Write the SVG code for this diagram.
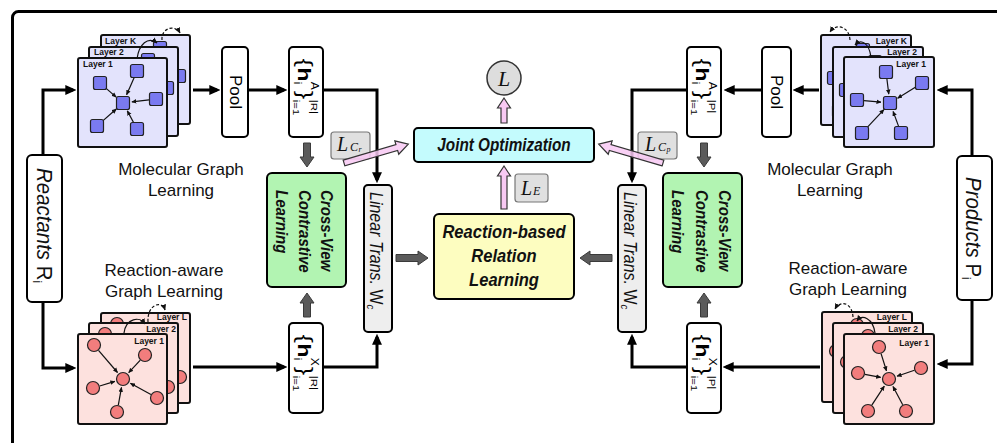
<svg xmlns="http://www.w3.org/2000/svg" width="997" height="443" viewBox="0 0 997 443">
<style>
.frame{fill:none;stroke:#000;stroke-width:3}
.box{fill:#fff;stroke:#000;stroke-width:2}
.mb{fill:#e3e3fc;stroke:#111;stroke-width:2}
.rb{fill:#fde1de;stroke:#111;stroke-width:2}
.sq{fill:#7a7af0;stroke:#222;stroke-width:1.2}
.ci{fill:#f27d7d;stroke:#222;stroke-width:1.2}
.ed{stroke:#111;stroke-width:1.2;marker-end:url(#sa)}
.conn{fill:none;stroke:#000;stroke-width:3;marker-end:url(#ah)}
.curve{fill:none;stroke:#111;stroke-width:1.2;marker-end:url(#ca)}
.dash{stroke-dasharray:3 2}
.gray{fill:#5b5b5b;stroke:#3a3a3a;stroke-width:1}
.pink{fill:#f8c9f3;stroke:#333;stroke-width:1.2}
.pinkd{fill:#f8c9f3;fill-opacity:0.85;stroke:#333;stroke-width:1.2}
.lossb{fill:#e0e0e0;stroke:#777;stroke-width:1.2}
.sans{font-family:"Liberation Sans",Arial,sans-serif}
.lbl{font-family:"Liberation Sans",Arial,sans-serif;font-size:17px;fill:#111}
.lay{font-family:"Liberation Sans",Arial,sans-serif;font-size:8.5px;font-weight:bold;fill:#111}
.bi{font-family:"Liberation Sans",Arial,sans-serif;font-weight:bold;font-style:italic;fill:#111}
.it{font-family:"Liberation Sans",Arial,sans-serif;font-style:italic;fill:#111}
.math{font-family:"Liberation Serif","Times New Roman",serif;font-style:italic;fill:#111}
</style>
<defs>
<marker id="ah" viewBox="0 0 10 10" refX="7" refY="5" markerWidth="11" markerHeight="11" markerUnits="userSpaceOnUse" orient="auto"><path d="M0,0.5 L10,5 L0,9.5 z" fill="#000"/></marker>
<marker id="sa" viewBox="0 0 10 10" refX="9" refY="5" markerWidth="5" markerHeight="5" markerUnits="userSpaceOnUse" orient="auto"><path d="M0,0.5 L10,5 L0,9.5 z" fill="#111"/></marker>
<marker id="ca" viewBox="0 0 10 10" refX="9" refY="5" markerWidth="6" markerHeight="6" markerUnits="userSpaceOnUse" orient="auto"><path d="M0,0.5 L10,5 L0,9.5 z" fill="#111"/></marker>
<g id="molL">
<rect x="0" y="0" width="89" height="89" rx="2" class="mb"/>
<line class="ed" x1="27.3" y1="29.6" x2="38.2" y2="39.1"/>
<line class="ed" x1="56.2" y1="19.4" x2="48.6" y2="36.7"/>
<line class="ed" x1="71" y1="41.8" x2="53.9" y2="43.9"/>
<line class="ed" x1="24.2" y1="63.4" x2="38.3" y2="51"/>
<line class="ed" x1="55.7" y1="64.8" x2="49.3" y2="52.9"/>
<rect class="sq" x="38.5" y="38.5" width="13" height="13" rx="2"/>
<rect class="sq" x="15.5" y="18.5" width="13" height="13" rx="2"/>
<rect class="sq" x="52.5" y="6.5" width="13" height="13" rx="2"/>
<rect class="sq" x="71.5" y="34.5" width="13" height="13" rx="2"/>
<rect class="sq" x="12.5" y="61.5" width="13" height="13" rx="2"/>
<rect class="sq" x="52.5" y="64.5" width="13" height="13" rx="2"/>
</g>
<g id="molR">
<rect x="0" y="0" width="90" height="90" rx="2" class="mb"/>
<line class="ed" x1="42.9" y1="21.9" x2="44.8" y2="37.1"/>
<line class="ed" x1="72.1" y1="29.7" x2="53.6" y2="41.2"/>
<line class="ed" x1="20" y1="43.6" x2="37" y2="45.2"/>
<line class="ed" x1="22.8" y1="70.9" x2="39.9" y2="52.6"/>
<line class="ed" x1="54.6" y1="69.4" x2="49.1" y2="54.4"/>
<rect class="sq" x="39.5" y="39.5" width="13" height="13" rx="2"/>
<rect class="sq" x="35.5" y="8.5" width="13" height="13" rx="2"/>
<rect class="sq" x="71.5" y="19.5" width="13" height="13" rx="2"/>
<rect class="sq" x="6.5" y="36.5" width="13" height="13" rx="2"/>
<rect class="sq" x="11.5" y="69.5" width="13" height="13" rx="2"/>
<rect class="sq" x="50.5" y="69.5" width="13" height="13" rx="2"/>
</g>
<g id="rxnL">
<rect x="0" y="0" width="89" height="90" rx="2" class="rb"/>
<line class="ed" x1="20.5" y1="16.3" x2="39.5" y2="38.5"/>
<line class="ed" x1="62.3" y1="26.2" x2="50.7" y2="38.7"/>
<line class="ed" x1="21.7" y1="52" x2="36.9" y2="47.4"/>
<line class="ed" x1="72.9" y1="60.6" x2="52.4" y2="49.2"/>
<line class="ed" x1="40.3" y1="71.1" x2="43.5" y2="53.4"/>
<circle class="ci" cx="45" cy="45" r="6.5"/>
<circle class="ci" cx="16" cy="11" r="6.5"/>
<circle class="ci" cx="67" cy="21" r="6.5"/>
<circle class="ci" cx="15" cy="54" r="6.5"/>
<circle class="ci" cx="79" cy="64" r="6.5"/>
<circle class="ci" cx="39" cy="78" r="6.5"/>
</g>
<g id="rxnR">
<rect x="0" y="0" width="90" height="90" rx="2" class="rb"/>
<line class="ed" x1="37.1" y1="19.7" x2="42.5" y2="36.9"/>
<line class="ed" x1="70.4" y1="36.3" x2="53" y2="42.2"/>
<line class="ed" x1="20.9" y1="40.3" x2="36.7" y2="43.4"/>
<line class="ed" x1="27.8" y1="71.1" x2="40.3" y2="52.1"/>
<line class="ed" x1="58.7" y1="70.8" x2="49" y2="52.5"/>
<circle class="ci" cx="45" cy="45" r="6.5"/>
<circle class="ci" cx="35" cy="13" r="6.5"/>
<circle class="ci" cx="77" cy="34" r="6.5"/>
<circle class="ci" cx="14" cy="39" r="6.5"/>
<circle class="ci" cx="24" cy="77" r="6.5"/>
<circle class="ci" cx="62" cy="77" r="6.5"/>
</g>
</defs>

<rect class="frame" x="12.5" y="11.5" width="1000" height="500" rx="6"/>

<g id="mol-left">
<use href="#molL" x="101" y="35"/>
<use href="#molL" x="89" y="47"/>
<use href="#molL" x="78" y="58"/>
<text class="lay" x="105" y="44">Layer K</text>
<text class="lay" x="94" y="55">Layer 2</text>
<text class="lay" x="83" y="67">Layer 1</text>
<path class="curve" d="M137,59 C139,44 148,36 157,43"/>
<path class="curve dash" d="M162,40 C161,28 175,24 180,33"/>
<text class="lbl" x="181" y="175" text-anchor="middle">Molecular Graph</text>
<text class="lbl" x="181" y="196" text-anchor="middle">Learning</text>
</g>

<g id="rxn-left">
<use href="#rxnL" x="101" y="313"/>
<use href="#rxnL" x="89" y="323"/>
<use href="#rxnL" x="78" y="334"/>
<text class="lay" x="187" y="320" text-anchor="end">Layer L</text>
<text class="lay" x="176" y="332" text-anchor="end">Layer 2</text>
<text class="lay" x="164" y="344" text-anchor="end">Layer 1</text>
<path class="curve" d="M124,333 C126,318 140,316 145,324"/>
<path class="curve dash" d="M148,322 C147,304 162,300 165,310"/>
<text class="lbl" x="164" y="276" text-anchor="middle">Reaction-aware</text>
<text class="lbl" x="164" y="297" text-anchor="middle">Graph Learning</text>
</g>

<g id="mol-right">
<use href="#molR" x="821" y="35"/>
<use href="#molR" x="833" y="47"/>
<use href="#molR" x="844" y="57"/>
<text class="lay" x="907" y="44" text-anchor="end">Layer K</text>
<text class="lay" x="917" y="55" text-anchor="end">Layer 2</text>
<text class="lay" x="926" y="67" text-anchor="end">Layer 1</text>
<path class="curve" d="M871,57 C869,43 861,38 855,45"/>
<path class="curve dash" d="M850,40 C849,26 836,23 830,32"/>
<text class="lbl" x="830" y="175" text-anchor="middle">Molecular Graph</text>
<text class="lbl" x="830" y="196" text-anchor="middle">Learning</text>
</g>

<g id="rxn-right">
<use href="#rxnR" x="822" y="312"/>
<use href="#rxnR" x="833" y="323"/>
<use href="#rxnR" x="844" y="334"/>
<text class="lay" x="907" y="320" text-anchor="end">Layer L</text>
<text class="lay" x="918" y="332" text-anchor="end">Layer 2</text>
<text class="lay" x="929" y="346" text-anchor="end">Layer 1</text>
<path class="curve" d="M875,333 C873,318 862,314 857,321"/>
<path class="curve dash" d="M853,317 C852,302 840,300 835,309"/>
<text class="lbl" x="848" y="274" text-anchor="middle">Reaction-aware</text>
<text class="lbl" x="848" y="295" text-anchor="middle">Graph Learning</text>
</g>

<g id="reactants">
<rect class="box" x="27" y="155" width="35" height="147" rx="5"/>
<text class="it" font-size="22" transform="translate(37,168) rotate(90) scale(0.93,1)">Reactants <tspan font-style="normal">R</tspan><tspan font-style="normal" font-size="13" dy="4">i</tspan></text>
</g>
<g id="products">
<rect class="box" x="957" y="156" width="35" height="144" rx="5"/>
<text class="it" font-size="22" transform="translate(966,177) rotate(90) scale(0.93,1)">Products <tspan font-style="normal">P</tspan><tspan font-style="normal" font-size="13" dy="4">i</tspan></text>
</g>

<g id="pool-left">
<rect class="box" x="222" y="47" width="26" height="90" rx="4"/>
<text class="sans" font-size="17" text-anchor="middle" transform="translate(229.5,92) rotate(90)">Pool</text>
</g>
<g id="pool-right">
<rect class="box" x="762" y="47" width="29" height="90" rx="4"/>
<text class="sans" font-size="17" text-anchor="middle" transform="translate(771,92) rotate(90)">Pool</text>
</g>

<g id="hA-left">
<rect class="box" x="289" y="47" width="34" height="90" rx="4"/>
<g class="sans" transform="translate(306,92) rotate(90) scale(1.2,1)">
<text x="-28" y="8" font-size="21">{</text>
<text x="-20.5" y="8" font-size="19" font-weight="bold">h</text>
<text x="-8.5" y="-5" font-size="10">A</text>
<text x="-8.5" y="12" font-size="10">i</text>
<text x="-1" y="8" font-size="21">}</text>
<text x="6.5" y="-5" font-size="9.5">|R|</text>
<text x="6.5" y="13" font-size="9.5">i=1</text>
</g>
</g>
<g id="hX-left">
<rect class="box" x="289" y="323" width="34" height="90" rx="4"/>
<g class="sans" transform="translate(306,368) rotate(90) scale(1.2,1)">
<text x="-28" y="8" font-size="21">{</text>
<text x="-20.5" y="8" font-size="19" font-weight="bold">h</text>
<text x="-8.5" y="-5" font-size="10">X</text>
<text x="-8.5" y="12" font-size="10">i</text>
<text x="-1" y="8" font-size="21">}</text>
<text x="6.5" y="-5" font-size="9.5">|R|</text>
<text x="6.5" y="13" font-size="9.5">i=1</text>
</g>
</g>
<g id="hA-right">
<rect class="box" x="687" y="47" width="34" height="90" rx="4"/>
<g class="sans" transform="translate(704,92) rotate(90) scale(1.2,1)">
<text x="-28" y="8" font-size="21">{</text>
<text x="-20.5" y="8" font-size="19" font-weight="bold">h</text>
<text x="-8.5" y="-5" font-size="10">A</text>
<text x="-8.5" y="12" font-size="10">i</text>
<text x="-1" y="8" font-size="21">}</text>
<text x="6.5" y="-5" font-size="9.5">|P|</text>
<text x="6.5" y="13" font-size="9.5">i=1</text>
</g>
</g>
<g id="hX-right">
<rect class="box" x="687" y="323" width="34" height="90" rx="4"/>
<g class="sans" transform="translate(704,368) rotate(90) scale(1.2,1)">
<text x="-28" y="8" font-size="21">{</text>
<text x="-20.5" y="8" font-size="19" font-weight="bold">h</text>
<text x="-8.5" y="-5" font-size="10">X</text>
<text x="-8.5" y="12" font-size="10">i</text>
<text x="-1" y="8" font-size="21">}</text>
<text x="6.5" y="-5" font-size="9.5">|P|</text>
<text x="6.5" y="13" font-size="9.5">i=1</text>
</g>
</g>

<g id="cv-left">
<rect x="267" y="173" width="79" height="114" rx="5" fill="#b2f4b2" stroke="#000" stroke-width="2"/>
<text class="bi" font-size="16" transform="translate(321,190) rotate(90) scale(0.94,1)">Cross-View</text>
<text class="bi" font-size="16" transform="translate(299,190) rotate(90) scale(0.94,1)">Contrastive</text>
<text class="bi" font-size="16" transform="translate(276,190) rotate(90) scale(0.94,1)">Learning</text>
</g>
<g id="cv-right">
<rect x="663" y="173" width="79" height="114" rx="5" fill="#b2f4b2" stroke="#000" stroke-width="2"/>
<text class="bi" font-size="16" transform="translate(719,190) rotate(90) scale(0.94,1)">Cross-View</text>
<text class="bi" font-size="16" transform="translate(696,190) rotate(90) scale(0.94,1)">Contrastive</text>
<text class="bi" font-size="16" transform="translate(672,190) rotate(90) scale(0.94,1)">Learning</text>
</g>

<g id="lt-left">
<rect x="364" y="185" width="28" height="147" rx="4" fill="#eeeeee" stroke="#000" stroke-width="2"/>
<text class="it" font-size="18" transform="translate(370,192) rotate(90) scale(0.89,1)">Linear Trans. <tspan font-style="normal">W</tspan><tspan font-size="11" dy="3">c</tspan></text>
</g>
<g id="lt-right">
<rect x="618" y="185" width="28" height="147" rx="4" fill="#eeeeee" stroke="#000" stroke-width="2"/>
<text class="it" font-size="18" transform="translate(624,192) rotate(90) scale(0.89,1)">Linear Trans. <tspan font-style="normal">W</tspan><tspan font-size="11" dy="3">c</tspan></text>
</g>

<g id="reaction">
<rect x="434" y="214" width="140" height="85" rx="5" fill="#fdfdc0" stroke="#000" stroke-width="2"/>
<text class="bi" font-size="18" text-anchor="middle" transform="translate(504,238) scale(0.92,1)">Reaction-based</text>
<text class="bi" font-size="18" text-anchor="middle" transform="translate(504,262) scale(0.92,1)">Relation</text>
<text class="bi" font-size="18" text-anchor="middle" transform="translate(504,286) scale(0.92,1)">Learning</text>
</g>

<g id="joint">
<rect x="414" y="128" width="180" height="34" rx="4" fill="#c4fbfd" stroke="#000" stroke-width="2"/>
<text class="bi" font-size="18" text-anchor="middle" transform="translate(504,151) scale(0.85,1)">Joint Optimization</text>
</g>

<g id="loss">
<circle cx="504" cy="78" r="17" fill="#dddddd" stroke="#333" stroke-width="1.5"/>
<text class="math" font-size="22" x="504" y="86" text-anchor="middle">L</text>
</g>

<g id="LCr">
<rect class="lossb" x="331" y="132" width="39" height="27" rx="3"/>
<text class="math" font-size="20" x="337" y="151">L</text>
<text class="math" font-size="12" x="350" y="151">C</text>
<text class="math" font-size="8" x="358.5" y="152">r</text>
</g>
<g id="LE">
<rect class="lossb" x="515" y="174" width="33" height="28" rx="3"/>
<text class="math" font-size="20" x="521" y="195">L</text>
<text class="math" font-size="12" x="533" y="195">E</text>
</g>
<g id="LCp">
<rect class="lossb" x="638" y="132" width="39" height="27" rx="3"/>
<text class="math" font-size="20" x="645" y="151">L</text>
<text class="math" font-size="12" x="658" y="151">C</text>
<text class="math" font-size="8" x="666.5" y="152">p</text>
</g>

<g id="connectors">
<path class="conn" d="M43,155 V90 H73"/>
<path class="conn" d="M43,302 V368 H73"/>
<path class="conn" d="M193,90 H217"/>
<path class="conn" d="M248,90 H284"/>
<path class="conn" d="M323,90 H377 V180"/>
<path class="conn" d="M193,367 H284"/>
<path class="conn" d="M323,367 H377 V337"/>
<path class="conn" d="M972,156 V90 H940"/>
<path class="conn" d="M972,300 V364 H940"/>
<path class="conn" d="M819,90 H796"/>
<path class="conn" d="M762,90 H727"/>
<path class="conn" d="M687,90 H632 V180"/>
<path class="conn" d="M820,367 H726"/>
<path class="conn" d="M687,367 H632 V337"/>
<polygon class="gray" points="303.5,143 310.5,143 310.5,157 314,157 307,167 300,157 303.5,157"/>
<polygon class="gray" points="303.5,317 310.5,317 310.5,303 314,303 307,293 300,303 303.5,303"/>
<polygon class="gray" points="700.5,143 707.5,143 707.5,157 711,157 704,167 697,157 700.5,157"/>
<polygon class="gray" points="700.5,317 707.5,317 707.5,303 711,303 704,293 697,303 700.5,303"/>
<polygon class="gray" points="396,254.5 418,254.5 418,251 428,258 418,265 418,261.5 396,261.5"/>
<polygon class="gray" points="612,254.5 590,254.5 590,251 580,258 590,265 590,261.5 612,261.5"/>
<polygon class="pink" points="501,123 507,123 507,108 510.5,108 504,98 497.5,108 501,108"/>
<polygon class="pink" points="501,209 507,209 507,176 510.5,176 504,166 497.5,176 501,176"/>
<polygon class="pinkd" transform="translate(344,163) rotate(-16.3)" points="0,-3 55,-3 55,-7 67,0 55,7 55,3 0,3"/>
<polygon class="pinkd" transform="translate(663,163) rotate(-163.7)" points="0,-3 55,-3 55,-7 67,0 55,7 55,3 0,3"/>
</g>
</svg>
